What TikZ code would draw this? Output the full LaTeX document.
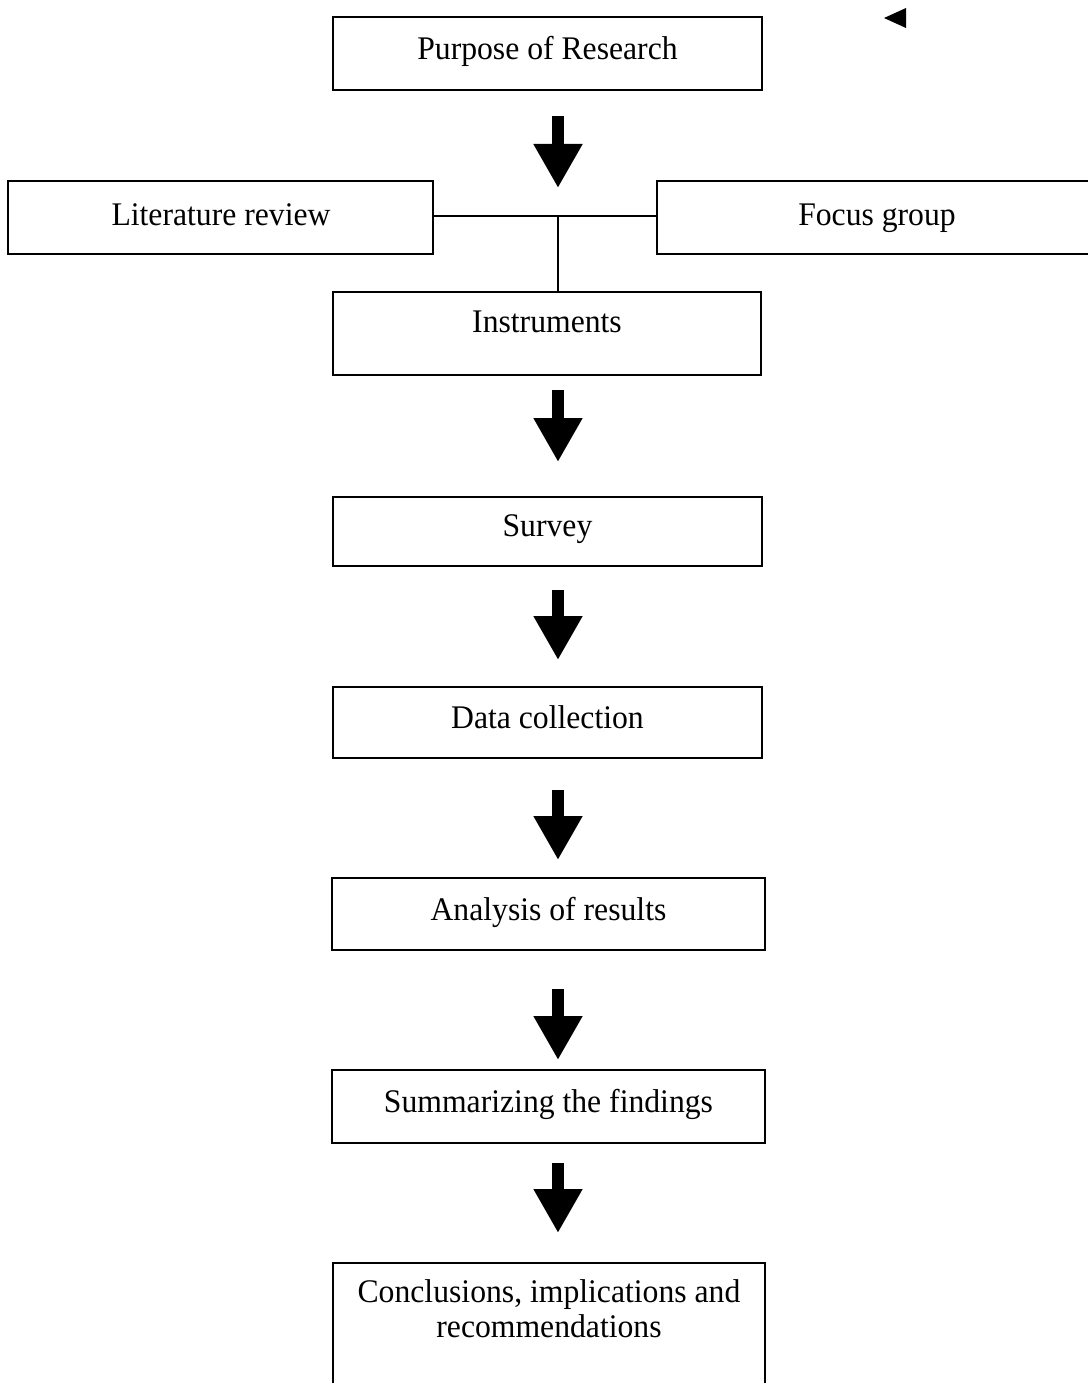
\documentclass[tikz,border=0pt]{standalone}
\usepackage{fontspec}
\setmainfont[FakeStretch=0.96]{Liberation Serif}
\usetikzlibrary{arrows.meta,calc}
\begin{document}
\begin{tikzpicture}[x=1pt,y=-1pt,
  box/.style={draw=black,line width=1.4pt,rectangle,inner sep=0pt,fill=none},
  lbl/.style={anchor=base,inner sep=0pt,font=\fontsize{33}{34}\selectfont},
  blockarrow/.style={line width=11.6pt,line cap=butt,-{Triangle[length=44pt,width=46pt]}},
  joint/.style={line width=1.4pt}]
\useasboundingbox[fill=white] (0,0) rectangle (1087,1383);
% boxes
\node[box,minimum width=429pt,minimum height=73pt] (purpose) at (547.5,53.5) {};
\node[box,minimum width=425pt,minimum height=73pt] (lit) at (220.5,217.5) {};
\node[box,minimum width=470pt,minimum height=73pt] (focus) at (892,217.5) {};
\node[box,minimum width=428pt,minimum height=83pt] (instr) at (547,333.5) {};
\node[box,minimum width=429pt,minimum height=69pt] (survey) at (547.5,531.5) {};
\node[box,minimum width=429pt,minimum height=71pt] (data) at (547.5,722.5) {};
\node[box,minimum width=433pt,minimum height=72pt] (analysis) at (548.5,914) {};
\node[box,minimum width=433pt,minimum height=73pt] (summ) at (548.5,1106.5) {};
\node[box,minimum width=432pt,minimum height=150pt] (concl) at (549,1338) {};
% texts
\node[lbl] (purposeT) at (547.5,60) {Purpose of Research};
\node[lbl] (litT) at (221,225) {Literature review};
\node[lbl] (focusT) at (877,225) {Focus group};
\node[lbl] (instrT) at (547,332) {Instruments};
\node[lbl] (surveyT) at (547.5,536) {Survey};
\node[lbl] (dataT) at (547.5,728) {Data collection};
\node[lbl] (analysisT) at (548.5,920) {Analysis of results};
\node[lbl] (summT) at (548.5,1112) {Summarizing the findings};
\node[lbl] (conclT1) at (549,1302) {Conclusions, implications and};
\node[lbl] (conclT2) at (549,1337) {recommendations};
% joint lines
\coordinate (junction) at (558,216);
\draw[joint] (lit.east |- junction) -- (focus.west |- junction);
\draw[joint] (junction) -- (junction |- instr.north);
% block arrows
\coordinate (a1s) at (558,116); \coordinate (a1e) at (558,188);
\coordinate (a2s) at (558,390); \coordinate (a2e) at (558,462);
\coordinate (a3s) at (558,590); \coordinate (a3e) at (558,660);
\coordinate (a4s) at (558,790); \coordinate (a4e) at (558,860);
\coordinate (a5s) at (558,989); \coordinate (a5e) at (558,1060);
\coordinate (a6s) at (558,1163); \coordinate (a6e) at (558,1233);
\draw[blockarrow] (a1s) -- (a1e);
\draw[blockarrow] (a2s) -- (a2e);
\draw[blockarrow] (a3s) -- (a3e);
\draw[blockarrow] (a4s) -- (a4e);
\draw[blockarrow] (a5s) -- (a5e);
\draw[blockarrow] (a6s) -- (a6e);
% small triangle marker top right
\fill[black] (884,18) -- (906,8) -- (906,28) -- cycle;
\end{tikzpicture}
\end{document}
